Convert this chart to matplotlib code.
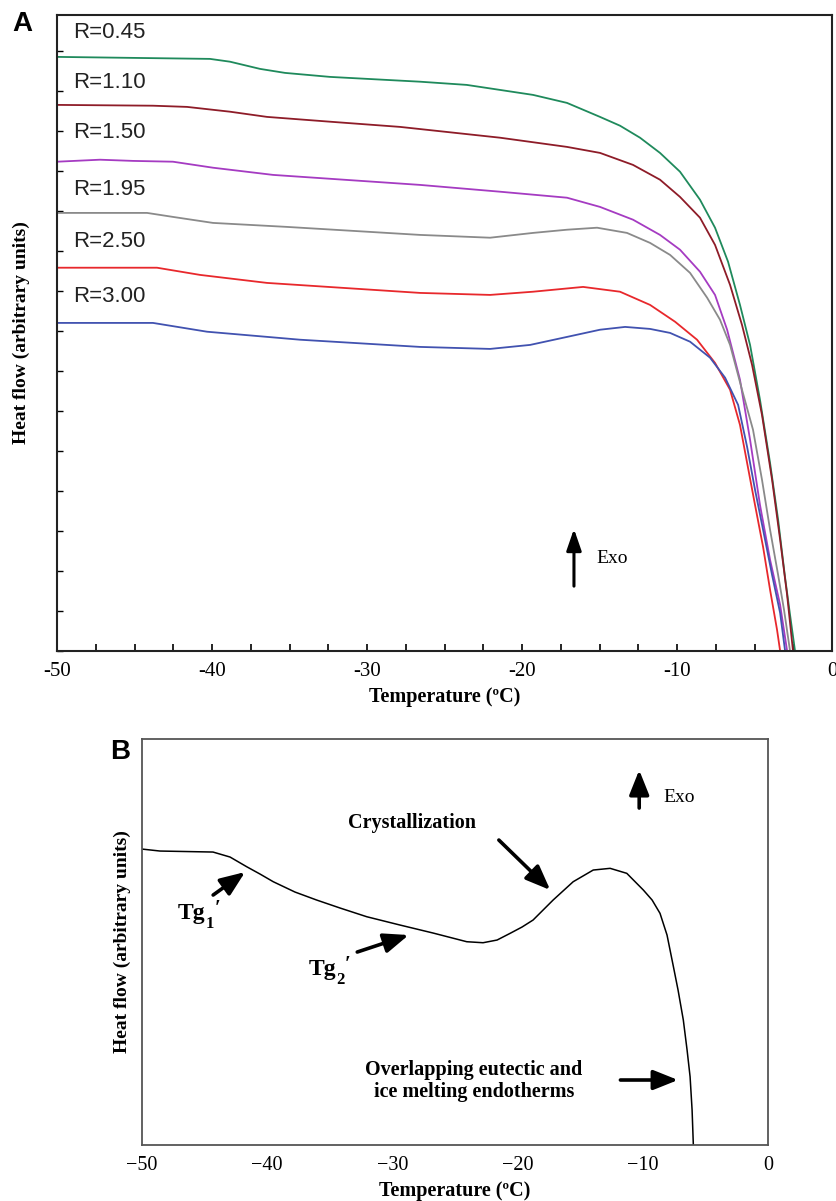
import matplotlib
matplotlib.use("Agg")
import matplotlib.pyplot as plt
import numpy as np

plt.rcParams['font.family'] = ['Liberation Serif', 'DejaVu Serif']

# Panel A: DSC heating curves for different R values (arbitrary heat flow units)
t_045 = [-50, -40.13, -38.84, -36.9, -35.29, -32.39, -26.58, -23.57, -19.29, -17.1, -14.97, -13.68,
         -12.39, -11.1, -9.81, -8.52, -7.55, -6.71, -5.94, -5.29, -4.65, -4.0, -3.48, -3.03, -2.71, -2.39]
y_045 = [14.85, 14.8, 14.73, 14.55, 14.45, 14.35, 14.23, 14.15, 13.9, 13.7, 13.35, 13.13,
         12.83, 12.45, 11.98, 11.28, 10.58, 9.73, 8.65, 7.65, 6.28, 4.7, 3.28, 1.83, 0.9, 0]

t_110 = [-50, -43.81, -41.61, -38.84, -36.45, -32.39, -27.87, -21.42, -17.1, -14.97, -12.84, -11.1,
         -9.81, -8.52, -7.55, -6.58, -5.81, -5.16, -4.52, -3.87, -3.35, -2.9, -2.52]
y_110 = [13.65, 13.63, 13.6, 13.48, 13.35, 13.23, 13.1, 12.83, 12.6, 12.45, 12.15, 11.78,
         11.35, 10.83, 10.15, 9.15, 8.15, 7.15, 5.9, 4.28, 2.78, 1.4, 0]

t_150 = [-50, -47.23, -45.1, -42.52, -39.94, -36.06, -26.58, -21.42, -17.1, -14.97, -12.84, -11.1,
         -9.81, -8.52, -7.55, -6.77, -5.94, -5.29, -4.65, -4.0, -3.35, -2.9]
y_150 = [12.23, 12.28, 12.25, 12.23, 12.08, 11.9, 11.65, 11.48, 11.33, 11.1, 10.78, 10.4,
         10.03, 9.48, 8.9, 8.03, 6.78, 5.28, 3.65, 2.28, 1.15, 0]

t_195 = [-50, -44.19, -42.52, -39.94, -35.16, -26.58, -22.06, -19.29, -17.1, -15.16, -13.23, -11.74,
         -10.45, -9.16, -8.06, -7.23, -6.58, -5.81, -5.1, -4.52, -4.0, -3.48, -3.1, -2.71]
y_195 = [10.95, 10.95, 10.85, 10.7, 10.6, 10.4, 10.33, 10.45, 10.53, 10.58, 10.45, 10.2,
         9.9, 9.45, 8.83, 8.28, 7.65, 6.53, 5.53, 4.28, 3.03, 1.9, 1.03, 0]

t_250 = [-50, -43.55, -40.77, -36.45, -26.58, -22.06, -19.29, -16.06, -13.68, -11.74, -10.13, -8.71,
         -7.55, -6.58, -5.94, -5.48, -4.97, -4.45, -4.0, -3.55, -3.35]
y_250 = [9.58, 9.58, 9.4, 9.2, 8.95, 8.9, 8.98, 9.1, 8.98, 8.65, 8.23, 7.78,
         7.2, 6.53, 5.65, 4.7, 3.65, 2.6, 1.53, 0.53, 0]

t_300 = [-50, -43.81, -40.32, -34.32, -26.58, -22.06, -19.48, -17.1, -14.97, -13.35, -11.74, -10.45,
         -9.16, -7.87, -6.9, -6.06, -5.48, -4.97, -4.45, -3.87, -3.35, -3.03]
y_300 = [8.2, 8.2, 7.98, 7.78, 7.6, 7.55, 7.65, 7.85, 8.03, 8.1, 8.05, 7.95,
         7.73, 7.33, 6.83, 6.15, 5.1, 4.03, 3.03, 1.9, 0.95, 0]

r_labels = ["R=0.45", "R=1.10", "R=1.50", "R=1.95", "R=2.50", "R=3.00"]
r_label_y = [15.45, 14.2, 12.95, 11.53, 10.23, 8.85]
series_t = [t_045, t_110, t_150, t_195, t_250, t_300]
series_y = [y_045, y_110, y_150, y_195, y_250, y_300]
colors = ['#1f8a5c', '#8e1c28', '#a53bc2', '#8a8a8a', '#e8282c', '#4152b0']

# Panel B: single curve with annotated events
t_b = [-50, -48.54, -44.31, -42.95, -41.62, -40.56, -39.5, -37.77, -36.04, -34.17, -32.04, -29.39,
       -26.75, -24.06, -22.76, -21.64, -20.6, -19.65, -18.77, -17.17, -15.57, -13.97, -12.62, -11.29,
       -9.97, -9.27, -8.64, -8.08, -7.57, -7.2, -6.78, -6.48, -6.24, -6.08, -5.98]
y_b = [29.6, 29.4, 29.3, 28.8, 27.83, 27.1, 26.33, 25.3, 24.5, 23.7, 22.83, 22.0,
       21.2, 20.33, 20.23, 20.5, 21.17, 21.8, 22.5, 24.5, 26.33, 27.5, 27.67, 27.17,
       25.5, 24.5, 23.17, 21.0, 17.83, 15.5, 12.5, 9.5, 6.83, 3.5, 0]

xticks = [-50, -40, -30, -20, -10, 0]

fig = plt.figure(figsize=(8.37, 12.01), dpi=100)

# ---- Panel A ----
ax = fig.add_axes([0.0681, 0.4580, 0.926, 0.5296])
for t, y, c in zip(series_t, series_y, colors):
    ax.plot(t, y, color=c, lw=1.3)
for lab, yy in zip(r_labels, r_label_y):
    ax.text(-48.95, yy, lab, fontsize=16, family=['Liberation Sans', 'DejaVu Sans'],
            va='center', ha='left', color='#222222')
ax.set_xlim(-50, 0)
ax.set_ylim(0, 15.9)
ax.set_xticks(xticks)
ax.set_xticklabels(['-50', '-40', '-30', '-20', '-10', '0'], fontsize=15)
ax.set_xticks(np.arange(-50, 0.1, 2.5), minor=True)
ax.set_yticks(np.arange(0, 16, 1))
ax.set_yticklabels([])
ax.tick_params(axis='x', which='both', direction='in', length=5, width=1.2, top=False, pad=8)
ax.tick_params(axis='y', direction='in', length=4, width=1.0, right=False)
for s in ax.spines.values():
    s.set_linewidth(1.5)
    s.set_color('#222222')
ax.set_xlabel('Temperature (ºC)', fontsize=14.5, fontweight='bold', labelpad=4)
ax.set_ylabel('Heat flow (arbitrary units)', fontsize=14, fontweight='bold', labelpad=16)
ax.annotate('', xy=(-16.65, 3.05), xytext=(-16.65, 1.62),
            arrowprops=dict(arrowstyle='-|>,head_length=1.3,head_width=0.45', color='black', lw=2.2,
                            shrinkA=0, shrinkB=0))
ax.text(-15.2, 2.3, 'Exo', fontsize=14, va='center', ha='left')
fig.text(22 / 837, 1 - 24 / 1201, 'A', fontsize=20, fontweight='bold',
         family=['Liberation Sans', 'DejaVu Sans'], ha='center', va='center')

# ---- Panel B ----
bx = fig.add_axes([0.1693, 0.04663, 0.7486, 0.338])
bx.plot(t_b, y_b, color='black', lw=1.1)
bx.set_xlim(-50, 0)
bx.set_ylim(0, 40.6)
bx.set_xticks(xticks)
bx.set_xticklabels(['\u221250', '\u221240', '\u221230', '\u221220', '\u221210', '0'], fontsize=14.5)
bx.set_yticks([])
bx.tick_params(axis='x', length=0, pad=8)
for s in bx.spines.values():
    s.set_linewidth(1.3)
    s.set_color('#555555')
bx.set_xlabel('Temperature (ºC)', fontsize=14.5, fontweight='bold', labelpad=4)
bx.set_ylabel('Heat flow (arbitrary units)', fontsize=14, fontweight='bold', labelpad=8)

arrow_b = dict(arrowstyle='-|>,head_length=1.5,head_width=0.6', color='black', lw=2.6,
               shrinkA=0, shrinkB=0)
bx.annotate('', xy=(-10.3, 37.5), xytext=(-10.3, 33.7), arrowprops=arrow_b)
bx.text(-8.4, 34.8, 'Exo', fontsize=14, va='center', ha='left')

bx.text(-28.4, 32.2, 'Crystallization', fontsize=14.5, fontweight='bold', ha='center', va='center')
bx.annotate('', xy=(-17.4, 25.5), xytext=(-21.5, 30.5), arrowprops=arrow_b)


def tg_label(x, y, sub):
    bx.text(x, y, 'Tg', fontsize=17, fontweight='bold', ha='left', va='center')
    bx.annotate(sub, xy=(x, y), xytext=(20, -8), textcoords='offset points',
                fontsize=12, fontweight='bold', ha='left', va='center')
    bx.annotate('\u2032', xy=(x, y), xytext=(26, 3), textcoords='offset points',
                fontsize=15, fontweight='bold', ha='left', va='center')


tg_label(-47.1, 23.2, '1')
bx.annotate('', xy=(-41.75, 27.3), xytext=(-44.3, 25.0), arrowprops=arrow_b)

tg_label(-36.7, 17.6, '2')
bx.annotate('', xy=(-28.7, 21.0), xytext=(-32.8, 19.3), arrowprops=arrow_b)

bx.text(-23.5, 6.4, 'Overlapping eutectic and\nice melting endotherms', fontsize=14.5,
        fontweight='bold', ha='center', va='center', linespacing=1.15)
bx.annotate('', xy=(-7.2, 6.5), xytext=(-11.8, 6.5), arrowprops=arrow_b)
fig.text(120 / 837, 1 - 752 / 1201, 'B', fontsize=20, fontweight='bold',
         family=['Liberation Sans', 'DejaVu Sans'], ha='center', va='center')

fig.savefig('out.png', dpi=100)
